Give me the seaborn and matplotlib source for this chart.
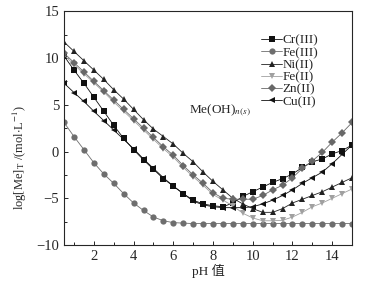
import numpy as np
import pandas as pd
import seaborn as sns
import matplotlib.pyplot as plt

# pH grid (points every 0.5)
ph = [0.5, 1, 1.5, 2, 2.5, 3, 3.5, 4, 4.5, 5, 5.5, 6, 6.5, 7, 7.5, 8,
      8.5, 9, 9.5, 10, 10.5, 11, 11.5, 12, 12.5, 13, 13.5, 14, 14.5, 15]

cr3 = [10.2, 8.7, 7.3, 5.8, 4.3, 2.8, 1.4, 0.2, -0.9, -1.9, -2.9, -3.7, -4.5, -5.2, -5.6, -5.8,
       -5.9, -5.5, -4.8, -4.3, -3.8, -3.3, -2.9, -2.4, -1.7, -1.1, -0.8, -0.25, 0.1, 0.7]
fe3 = [3.1, 1.6, 0.2, -1.2, -2.4, -3.4, -4.5, -5.5, -6.3, -7.0, -7.4, -7.6, -7.65, -7.7, -7.7, -7.7,
       -7.7, -7.7, -7.7, -7.7, -7.7, -7.7, -7.7, -7.7, -7.7, -7.7, -7.7, -7.7, -7.7, -7.7]
ni2 = [11.7, 10.7, 9.7, 8.7, 7.7, 6.6, 5.6, 4.5, 3.4, 2.4, 1.6, 0.8, -0.2, -1.1, -2.2, -3.2,
       -4.1, -5.0, -5.6, -6.1, -6.5, -6.5, -6.1, -5.5, -5.1, -4.7, -4.3, -3.8, -3.3, -2.8]
fe2 = [10.3, 9.3, 8.3, 7.35, 6.35, 5.3, 4.3, 3.3, 2.3, 1.3, 0.3, -0.6, -1.7, -2.7, -3.6, -4.6,
       -5.2, -5.8, -6.6, -7.1, -7.4, -7.4, -7.35, -7.0, -6.5, -5.9, -5.5, -5.0, -4.5, -4.0]
zn2 = [10.5, 9.5, 8.5, 7.5, 6.5, 5.5, 4.5, 3.5, 2.5, 1.5, 0.5, -0.4, -1.5, -2.5, -3.4, -4.4,
       -5.0, -5.1, -5.1, -5.1, -4.7, -4.1, -3.6, -2.8, -1.8, -1.0, -0.1, 1.0, 2.0, 3.1]
cu2 = [7.3, 6.3, 5.35, 4.3, 3.3, 2.3, 1.3, 0.3, -0.8, -1.8, -2.8, -3.7, -4.5, -5.3, -5.7, -5.9,
       -6.0, -6.0, -6.0, -5.9, -5.6, -5.2, -4.7, -4.1, -3.4, -2.8, -2.2, -1.3, -0.3, 0.7]

names = ['Cr(III)', 'Fe(III)', 'Ni(II)', 'Fe(II)', 'Zn(II)', 'Cu(II)']
series = [cr3, fe3, ni2, fe2, zn2, cu2]

df = pd.concat([pd.DataFrame({'pH': ph, 'logMe': s, 'ion': n}) for n, s in zip(names, series)])

colors = {'Cr(III)': '#111111', 'Fe(III)': '#6e6e6e', 'Ni(II)': '#222222',
          'Fe(II)': '#a0a0a0', 'Zn(II)': '#686868', 'Cu(II)': '#111111'}
marks = {'Cr(III)': 's', 'Fe(III)': 'o', 'Ni(II)': '^',
         'Fe(II)': 'v', 'Zn(II)': 'D', 'Cu(II)': '<'}

sns.set_style('ticks')
plt.rcParams['font.family'] = ['Liberation Serif', 'Noto Sans CJK SC']
plt.rcParams['mathtext.fontset'] = 'stix'

fig = plt.figure(figsize=(3.66, 2.85), dpi=100)
ax = fig.add_axes([0.175, 0.14, 0.787, 0.821])

sns.lineplot(data=df, x='pH', y='logMe', hue='ion', style='ion', hue_order=names,
             palette=colors, markers=marks, dashes=False, linewidth=0.6,
             markersize=4.5, markeredgewidth=0, ax=ax)

ax.set_xlim(0.5, 15)
ax.set_ylim(-10, 15)
ax.set_xticks([2, 4, 6, 8, 10, 12, 14])
ax.set_xticks(np.arange(1, 15, 1), minor=True)
ax.set_yticks([-10, -5, 0, 5, 10, 15])
ax.set_yticks([-7.5, -2.5, 2.5, 7.5, 12.5], minor=True)
ax.tick_params(which='both', direction='in', top=False, right=False, labelsize=10.5, width=0.7)
ax.tick_params(which='major', length=3)
ax.tick_params(which='minor', length=2)
for sp in ax.spines.values():
    sp.set_linewidth(0.8)
    sp.set_visible(True)

ax.set_xlabel('pH 值', fontsize=9.5, labelpad=1)
ax.set_ylabel(r'log[Me]$_\mathrm{T}$ /(mol$\cdot$L$^{-1}$)', fontsize=9)
ax.yaxis.set_label_coords(-0.12, 0.375)

ax.text(6.8, 4.1, r'Me(OH)$_{n(s)}$', fontsize=9.5)

leg = ax.legend(title=None, loc='upper left', bbox_to_anchor=(0.685, 0.9), frameon=False,
                fontsize=9.5, handlelength=1.55, handletextpad=0.05, labelspacing=0.0,
                borderpad=0, borderaxespad=0)

fig.savefig('out.png', dpi=100)
